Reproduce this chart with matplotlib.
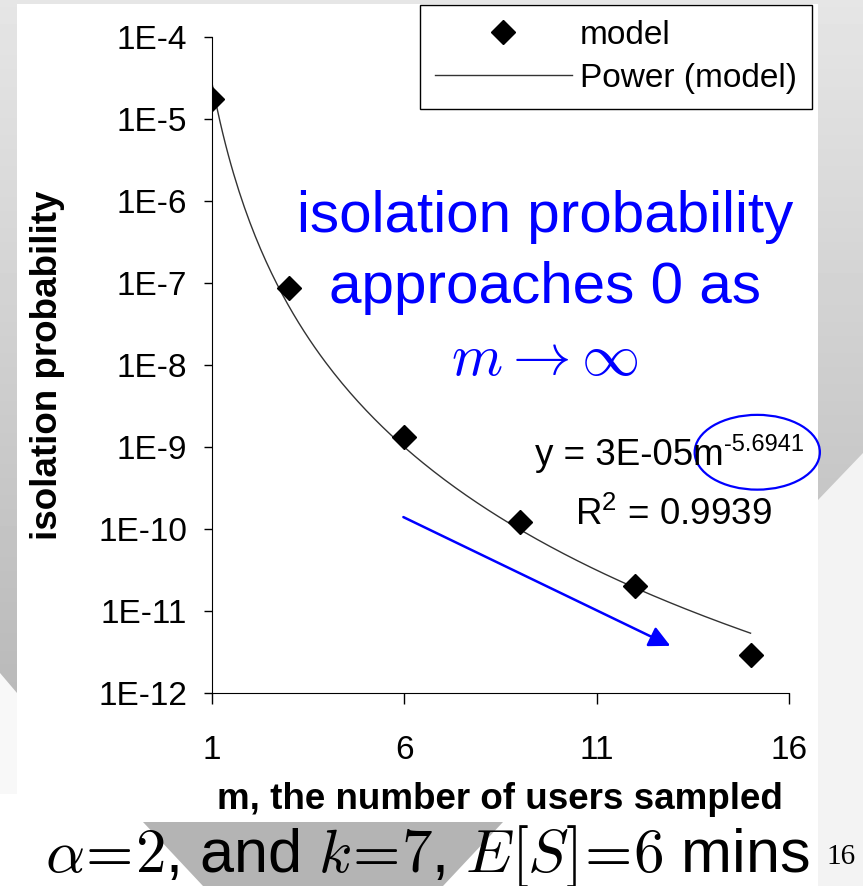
import matplotlib.pyplot as plt
import numpy as np
from matplotlib.patches import Polygon, Rectangle, Ellipse
from matplotlib.ticker import NullLocator

plt.rcParams['font.family'] = ['Liberation Sans', 'DejaVu Sans']

# values
m_users = [1, 3, 6, 9, 12, 15]
iso_prob = [1.75e-5, 8.7e-8, 1.32e-9, 1.22e-10, 2.02e-11, 2.9e-12]

x_ticks = [1, 6, 11, 16]
y_ticks = [1e-4, 1e-5, 1e-6, 1e-7, 1e-8, 1e-9, 1e-10, 1e-11, 1e-12]
y_tick_labels = ['1E-4', '1E-5', '1E-6', '1E-7', '1E-8', '1E-9', '1E-10', '1E-11', '1E-12']

# power trend line, fitted like the spreadsheet does (log-log least squares)
x = np.array(m_users, dtype=float)
y = np.array(iso_prob)
slope, icpt = np.polyfit(np.log(x), np.log(y), 1)
x_fit = np.linspace(x.min(), x.max(), 200)
y_fit = np.exp(icpt) * x_fit ** slope

fig = plt.figure(figsize=(8.63, 8.86), dpi=100)

# slide background, drawn in pixel units
bg = fig.add_axes([0, 0, 1, 1], zorder=-1)
bg.set_xlim(0, 863)
bg.set_ylim(886, 0)
bg.axis('off')
grad = np.linspace(0.90, 0.68, 256).reshape(-1, 1)
bg.imshow(grad, extent=[0, 863, 886, 0], cmap='gray', vmin=0, vmax=1, aspect='auto')
bg.add_patch(Polygon([(818, 500), (863, 453), (863, 886), (818, 886)], closed=True, color='#f3f3f3', lw=0))
bg.add_patch(Polygon([(0, 673), (17, 693), (17, 886), (0, 886)], closed=True, color='#f8f8f8', lw=0))
bg.add_patch(Rectangle((0, 794), 818, 92, color='white', lw=0))
bg.add_patch(Rectangle((17, 4), 801, 790, color='white', lw=0))
bg.add_patch(Polygon([(143, 822), (503, 822), (443, 886), (203, 886)], closed=True, color='#b4b4b4', lw=0))

ax = fig.add_axes([212/863, 1 - 693/886, 577/863, 656/886])
ax.patch.set_alpha(0)

ax.plot(x_fit, y_fit, color='#333333', lw=1, label='Power (model)', zorder=2)
ax.plot(x, y, linestyle='none', marker='D', ms=12, color='black', label='model', zorder=3)

ax.set_yscale('log')
ax.set_xlim(1, 16)
ax.set_ylim(1e-12, 1e-4)
ax.set_xticks(x_ticks)
ax.set_yticks(y_ticks)
ax.set_yticklabels(y_tick_labels)
ax.yaxis.set_minor_locator(NullLocator())
ax.tick_params(axis='y', labelsize=24, length=6, width=1, pad=12, direction='out')
ax.tick_params(axis='x', labelsize=24, length=8, width=1, pad=22, direction='out')
for s in ['top', 'right']:
    ax.spines[s].set_visible(False)

ax.set_xlabel('m, the number of users sampled', fontsize=26.5, fontweight='bold')
ax.set_ylabel('isolation probability', fontsize=26.5, fontweight='bold')
ax.xaxis.set_label_coords(0.499, -0.135)
ax.yaxis.set_label_coords(-0.255, 0.5)

# legend
handles, labels = ax.get_legend_handles_labels()
leg = fig.legend(handles[::-1], labels[::-1], loc='upper right', bbox_to_anchor=(812/863, 1 - 5/886),
                 fontsize=24, frameon=True, fancybox=False, framealpha=1, edgecolor='black',
                 handlelength=4.1, handletextpad=0.25, borderpad=0.45, labelspacing=0.35, borderaxespad=0)
leg.get_frame().set_linewidth(1)

# annotations
blue = '#0000ff'
ax.text(0.577, 0.726, 'isolation probability', transform=ax.transAxes, color=blue,
        fontsize=42, ha='center', va='center')
ax.text(0.577, 0.617, 'approaches 0 as', transform=ax.transAxes, color=blue,
        fontsize=42, ha='center', va='center')
ax.text(0.577, 0.508, r'$m \to \infty$', transform=ax.transAxes, color=blue,
        fontsize=42, ha='center', va='center', math_fontfamily='cm')

eq = ax.text(0.560, 0.348, 'y = 3E-05m', transform=ax.transAxes,
             fontsize=26.5, ha='left', va='baseline')
ax.annotate('-5.6941', xy=(1.0, 0.8), xycoords=eq, fontsize=17, ha='left', va='center')
ax.text(0.629, 0.256, r'R$^{\mathregular{2}}$ = 0.9939', transform=ax.transAxes,
        fontsize=26.5, ha='left', va='baseline')
ax.add_patch(Ellipse((0.945, 0.367), 0.217, 0.114, transform=ax.transAxes, fill=False,
                     edgecolor=blue, lw=1.6, clip_on=False))

ax.annotate('', xy=(12.98, 10**-11.44), xytext=(5.91, 10**-9.84),
            arrowprops=dict(arrowstyle='-|>', color=blue, lw=1.8, mutation_scale=32))

# slide caption
fig.text(45/863, 1 - 872/886, r'$\alpha\!=\!2$, and $k\!=\!7$, $E[S]\!=\!6$ mins',
         fontsize=44, ha='left', va='baseline', math_fontfamily='cm')
fig.text(841/863, 1 - 864/886, '16', fontsize=21, ha='center', va='baseline',
         family=['Liberation Serif', 'DejaVu Serif'])

fig.savefig('out.png', dpi=100)
